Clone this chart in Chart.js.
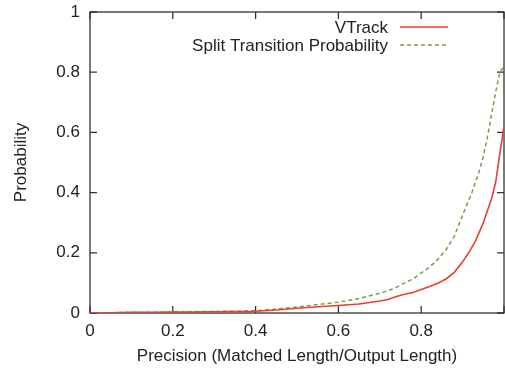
<!doctype html>
<html>

<head>
    <title>Precision vs Probability</title>
    <script src="https://cdn.jsdelivr.net/npm/chart.js@4/dist/chart.umd.min.js"></script>
    <style>
    html, body {
        margin: 0;
        padding: 0;
        background: #fff;
        overflow: hidden;
    }
    </style>
</head>

<body>
    <div style="width:505px;height:369px;">
        <canvas id="myChart" width="505" height="369"></canvas>
    </div>
    <script>
    // precision on the x axis
    var precision = [0, 0.05, 0.1, 0.15, 0.2, 0.25, 0.3, 0.35, 0.4, 0.45, 0.5, 0.55, 0.6, 0.65, 0.7,
        0.72, 0.74, 0.76, 0.78, 0.8, 0.82, 0.84, 0.86, 0.88, 0.9,
        0.91, 0.92, 0.93, 0.94, 0.95, 0.96, 0.97, 0.98, 0.99, 1.0];

    var vtrack = [0.001, 0.001, 0.002, 0.002, 0.003, 0.003, 0.004, 0.005, 0.006, 0.010, 0.016, 0.021, 0.025, 0.030, 0.040,
        0.045, 0.055, 0.062, 0.068, 0.078, 0.088, 0.099, 0.113, 0.135, 0.170,
        0.190, 0.212, 0.236, 0.268, 0.300, 0.340, 0.380, 0.435, 0.530, 0.620];

    var splitTransition = [0.001, 0.001, 0.002, 0.002, 0.003, 0.004, 0.005, 0.006, 0.008, 0.013, 0.020, 0.028, 0.036, 0.048, 0.066,
        0.074, 0.085, 0.100, 0.113, 0.133, 0.152, 0.178, 0.210, 0.255, 0.325,
        0.360, 0.390, 0.430, 0.470, 0.520, 0.585, 0.660, 0.735, 0.800, 0.820];

    var tickValues = [0, 0.2, 0.4, 0.6, 0.8, 1];

    var FONT = "'Liberation Sans', Arial, Helvetica, sans-serif";
    var FONT_SIZE = 17;
    var TEXT = '#222';
    var FRAME = '#333';

    function points(ys) {
        return precision.map(function(x, i) { return {x: x, y: ys[i]}; });
    }

    // gnuplot style box with ticks pointing inwards on all four sides
    var framePlugin = {
        id: 'frame',
        beforeDatasetsDraw: function(chart) {
            var ctx = chart.ctx, a = chart.chartArea;
            var xs = chart.scales.x, ys = chart.scales.y;
            var len = 7;
            ctx.save();
            ctx.strokeStyle = FRAME;
            ctx.lineWidth = 1.3;
            ctx.strokeRect(a.left, a.top, a.right - a.left, a.bottom - a.top);
            ctx.beginPath();
            tickValues.forEach(function(v) {
                var px = xs.getPixelForValue(v);
                ctx.moveTo(px, a.bottom); ctx.lineTo(px, a.bottom - len);
                ctx.moveTo(px, a.top); ctx.lineTo(px, a.top + len);
                var py = ys.getPixelForValue(v);
                ctx.moveTo(a.left, py); ctx.lineTo(a.left + len, py);
                ctx.moveTo(a.right, py); ctx.lineTo(a.right - len, py);
            });
            ctx.stroke();
            ctx.restore();
        }
    };

    // key in the top right: right aligned label, line sample after it
    var keyPlugin = {
        id: 'key',
        afterDraw: function(chart) {
            var ctx = chart.ctx;
            var textRight = 388, lineStart = 400, lineEnd = 448;
            var rows = [27, 45];
            ctx.save();
            ctx.font = FONT_SIZE + 'px ' + FONT;
            ctx.textAlign = 'right';
            ctx.textBaseline = 'middle';
            chart.data.datasets.forEach(function(ds, i) {
                var y = rows[i];
                ctx.fillStyle = TEXT;
                ctx.fillText(ds.label, textRight, y + 1);
                ctx.strokeStyle = ds.borderColor;
                ctx.lineWidth = ds.borderWidth;
                ctx.setLineDash(ds.borderDash || []);
                ctx.beginPath();
                ctx.moveTo(lineStart, y);
                ctx.lineTo(lineEnd, y);
                ctx.stroke();
            });
            ctx.restore();
        }
    };

    function drawGraph() {
        var ctx = document.getElementById('myChart').getContext('2d');
        var chart = new Chart(ctx, {
            type: 'line',
            data: {
                datasets: [{
                    label: 'VTrack',
                    data: points(vtrack),
                    borderColor: 'rgb(234, 62, 46)',
                    borderWidth: 1.6,
                    pointRadius: 0,
                    tension: 0
                }, {
                    label: 'Split Transition Probability',
                    data: points(splitTransition),
                    borderColor: 'rgb(118, 158, 70)',
                    borderWidth: 1.5,
                    borderDash: [4, 3],
                    pointRadius: 0,
                    tension: 0
                }]
            },
            options: {
                responsive: false,
                animation: false,
                layout: { padding: { top: 12, right: 1, bottom: 0, left: 0 } },
                plugins: {
                    legend: { display: false },
                    tooltip: { enabled: false }
                },
                scales: {
                    x: {
                        type: 'linear',
                        min: 0,
                        max: 1,
                        grid: { display: false, drawTicks: false },
                        border: { display: false },
                        afterBuildTicks: function(scale) {
                            scale.ticks = tickValues.map(function(v) { return {value: v}; });
                        },
                        ticks: {
                            padding: 8,
                            color: TEXT,
                            font: { family: FONT, size: FONT_SIZE },
                            maxRotation: 0,
                            autoSkip: false,
                            callback: function(v) { return v === 1 ? '' : String(v); }
                        },
                        title: {
                            display: true,
                            text: 'Precision (Matched Length/Output Length)',
                            color: TEXT,
                            font: { family: FONT, size: FONT_SIZE },
                            padding: { top: 0, bottom: 2 }
                        },
                        afterFit: function(scale) {
                            scale.height = 56;
                            scale.paddingLeft = 0;
                            scale.paddingRight = 0;
                        }
                    },
                    y: {
                        min: 0,
                        max: 1,
                        grid: { display: false, drawTicks: false },
                        border: { display: false },
                        afterBuildTicks: function(scale) {
                            scale.ticks = tickValues.map(function(v) { return {value: v}; });
                        },
                        ticks: {
                            padding: 10,
                            color: TEXT,
                            font: { family: FONT, size: FONT_SIZE },
                            callback: function(v) { return String(v); }
                        },
                        title: {
                            display: true,
                            text: 'Probability',
                            color: TEXT,
                            font: { family: FONT, size: FONT_SIZE },
                            padding: { top: 11, bottom: 0 }
                        },
                        afterFit: function(scale) {
                            scale.width = 90;
                            scale.paddingTop = 0;
                            scale.paddingBottom = 0;
                        }
                    }
                }
            },
            plugins: [framePlugin, keyPlugin]
        });
    }

    window.onload = function() {
        drawGraph();
    };
    </script>
</body>

</html>
